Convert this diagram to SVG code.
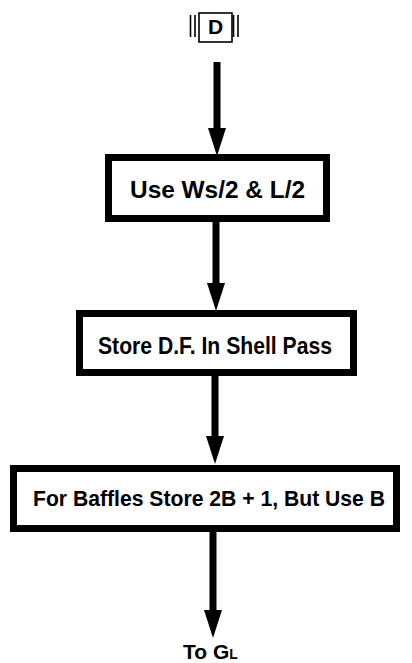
<svg xmlns="http://www.w3.org/2000/svg" width="412" height="663" viewBox="0 0 412 663">
  <style>
    .box { fill: #ffffff; stroke: #000000; stroke-width: 7; }
    .lbl { font-family: "Liberation Sans Narrow", "Liberation Sans", Arial, sans-serif; font-weight: bold; fill: #000000; }
    .flow { stroke: #000000; stroke-width: 7; fill: none; }
    .conn { fill: none; stroke: #000000; stroke-width: 1.6; }
  </style>
  <defs>
    <marker id="head" viewBox="0 0 30 20" refX="2" refY="10" markerWidth="30" markerHeight="20" markerUnits="userSpaceOnUse" orient="auto">
      <path d="M0,1 L28,10 L0,19 z" fill="#000000"/>
    </marker>
  </defs>
  <rect width="412" height="663" fill="#ffffff"/>

  <!-- entry connector D -->
  <g id="connector-d">
    <line class="conn" x1="190.5" y1="15" x2="190.5" y2="37"/>
    <line class="conn" x1="195" y1="15" x2="195" y2="37"/>
    <line class="conn" x1="233.5" y1="15" x2="233.5" y2="37"/>
    <line class="conn" x1="238" y1="15" x2="238" y2="37"/>
    <rect class="conn" x="199" y="13" width="33" height="29"/>
    <text class="lbl" x="215.5" y="34" font-size="21" text-anchor="middle">D</text>
  </g>

  <!-- flow arrows -->
  <g id="connectors">
    <line class="flow" x1="217" y1="62" x2="217" y2="130" marker-end="url(#head)"/>
    <line class="flow" x1="216" y1="222" x2="216" y2="285" marker-end="url(#head)"/>
    <line class="flow" x1="215" y1="376" x2="215" y2="438" marker-end="url(#head)"/>
    <line class="flow" x1="213" y1="532" x2="213" y2="612" marker-end="url(#head)"/>
  </g>

  <g id="step-use-half">
    <rect class="box" x="108.5" y="157.5" width="218" height="61"/>
    <text class="lbl" x="130" y="198" font-size="23" textLength="175" lengthAdjust="spacingAndGlyphs">Use Ws/2 &amp; L/2</text>
  </g>

  <g id="step-store-df">
    <rect class="box" x="79.5" y="313.5" width="274" height="59"/>
    <text class="lbl" x="98" y="354" font-size="23" textLength="234" lengthAdjust="spacingAndGlyphs">Store D.F. In Shell Pass</text>
  </g>

  <g id="step-baffles">
    <rect class="box" x="13.5" y="468.5" width="383" height="60"/>
    <text class="lbl" x="33" y="506" font-size="22" textLength="352" lengthAdjust="spacingAndGlyphs">For Baffles Store 2B + 1, But Use B</text>
  </g>

  <g id="exit-gl">
    <text class="lbl" x="183" y="659" font-size="21">To G<tspan font-size="14">L</tspan></text>
  </g>
</svg>
